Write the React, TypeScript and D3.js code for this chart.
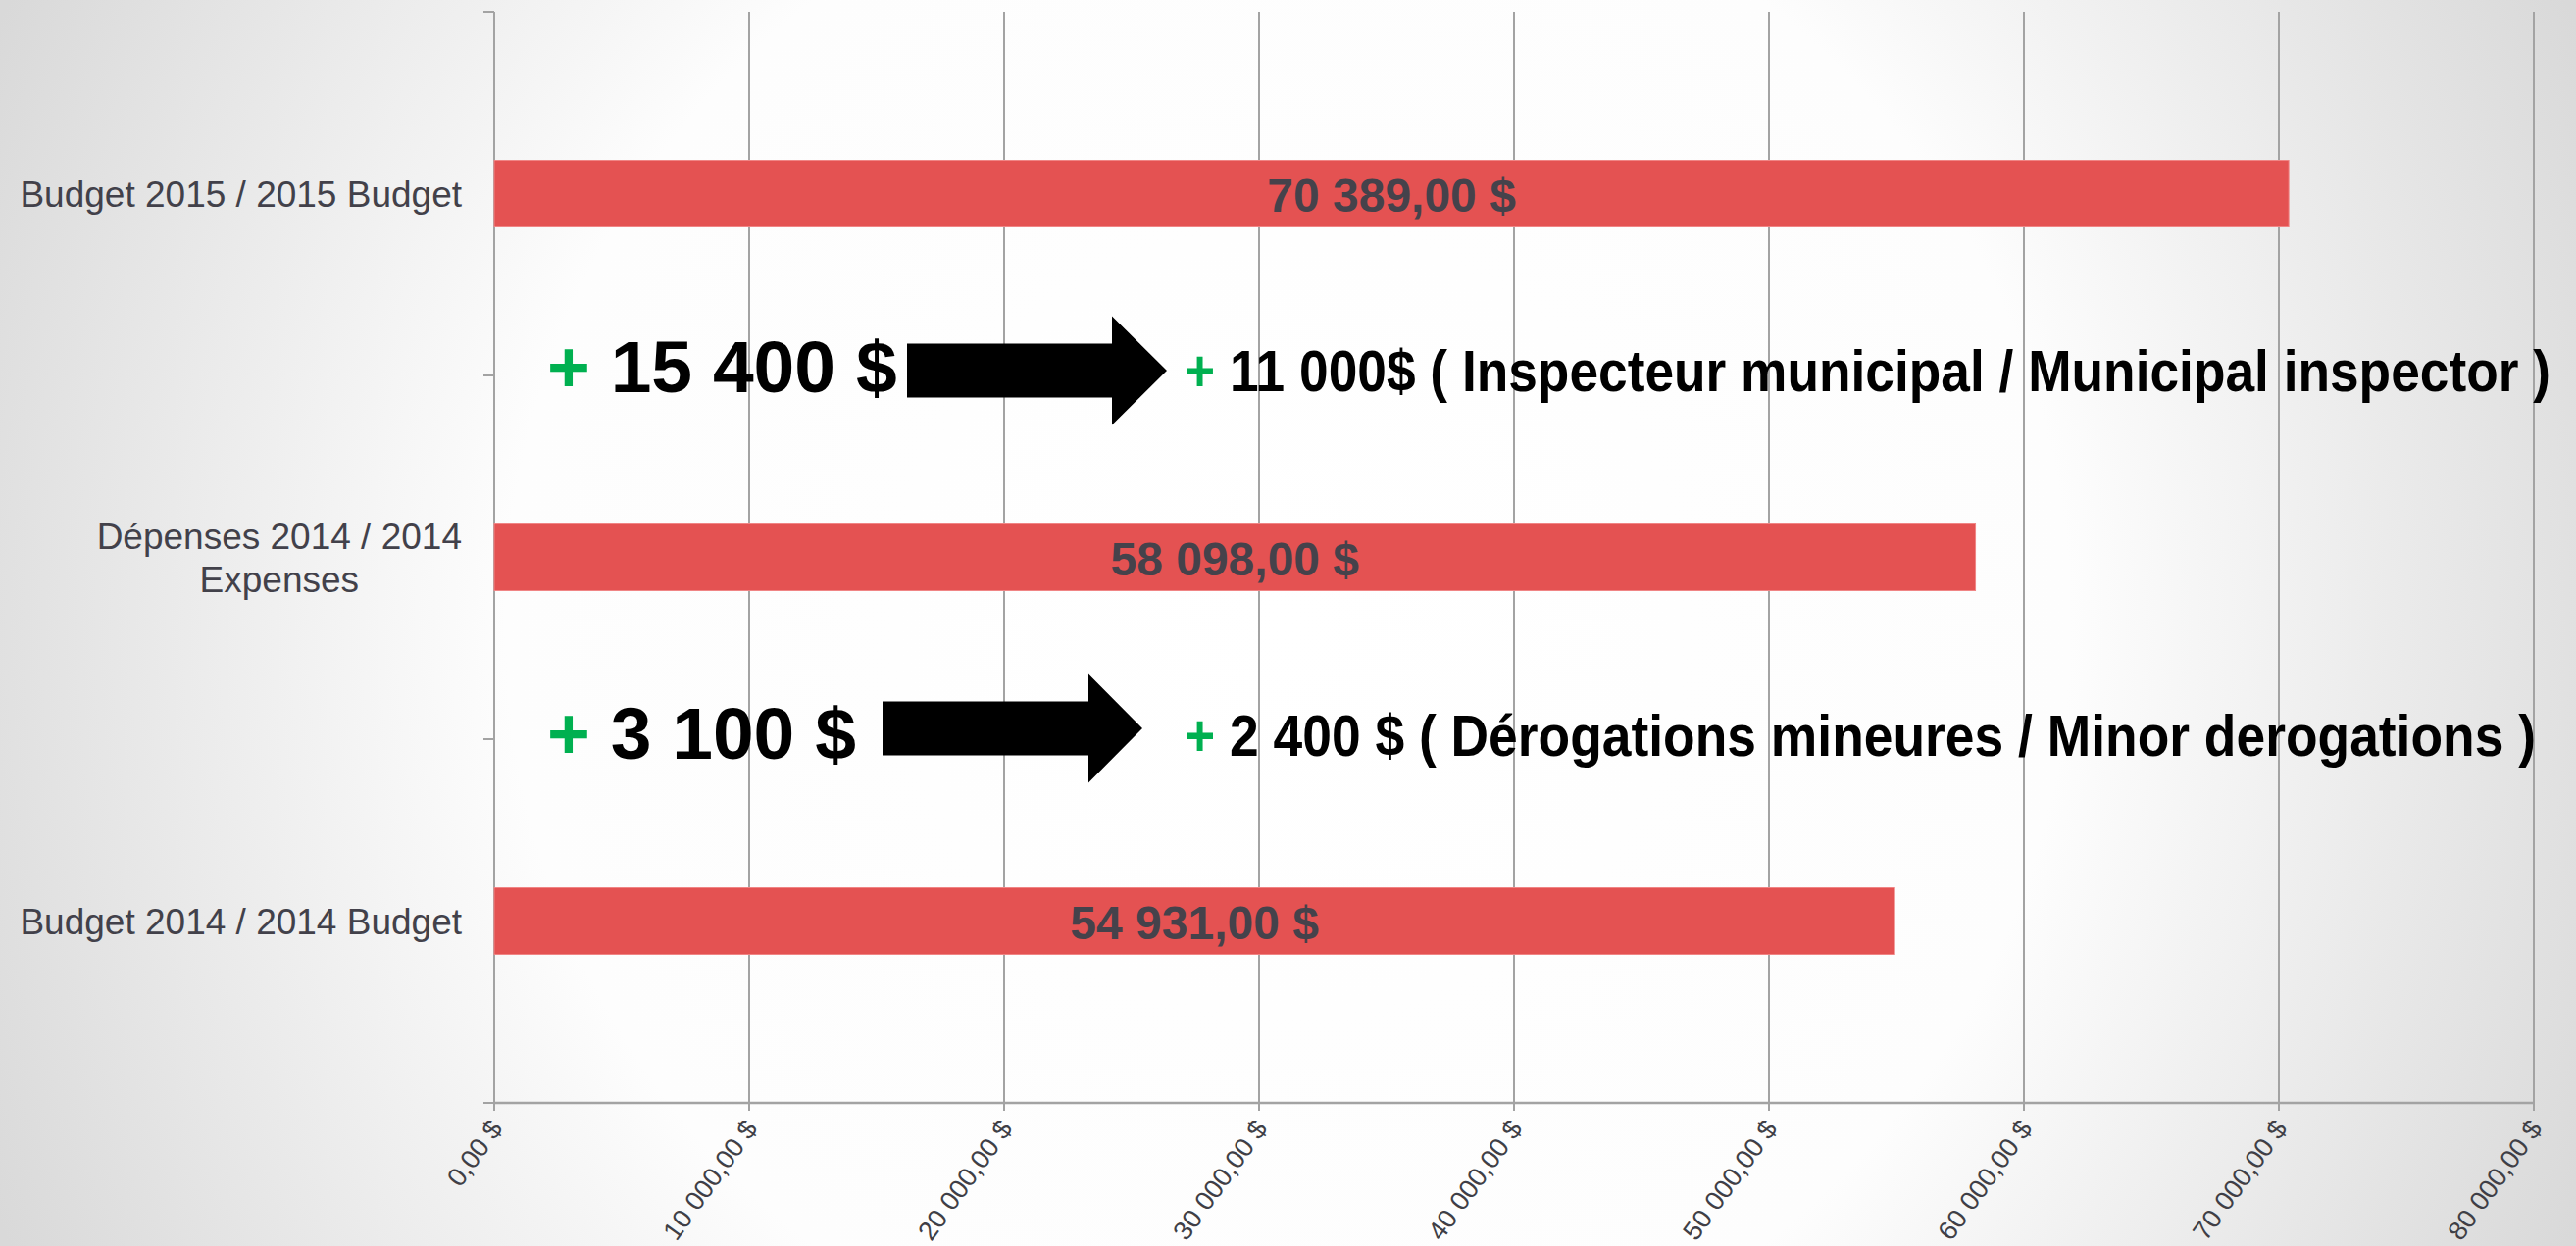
import React, { useEffect, useRef } from "react";
import * as d3 from "d3";

// ---- data ----
const categories = [
  "Budget 2015 / 2015 Budget",
  "Dépenses 2014 / 2014 Expenses",
  "Budget 2014 / 2014 Budget",
];
const categoryLabelLines = [
  ["Budget 2015 / 2015 Budget"],
  ["Dépenses 2014 / 2014", "Expenses"],
  ["Budget 2014 / 2014 Budget"],
];
const values = [70389, 58098, 54931];
const xTickValues = [0, 10000, 20000, 30000, 40000, 50000, 60000, 70000, 80000];
const increaseTotals = ["15 400 $", "3 100 $"];
const increaseDetails = [
  "11 000$ ( Inspecteur municipal / Municipal inspector )",
  "2 400 $ ( Dérogations mineures / Minor derogations )",
];

// ---- layout ----
const W = 2627;
const H = 1271;
const M = { left: 504, right: 2584, top: 12, bottom: 1125 };
const FONT = "'Liberation Sans', Arial, Helvetica, sans-serif";
const annotationLayout = [
  { textX: 558, baseline: 400, arrowX0: 925, arrowX1: 1134, arrowTip: 1190, arrowCy: 378, detailX: 1208, detailBaseline: 399, detailLen: 1393 },
  { textX: 558, baseline: 774, arrowX0: 900, arrowX1: 1110, arrowTip: 1165, arrowCy: 743, detailX: 1208, detailBaseline: 771, detailLen: 1378 },
];

const locale = d3.formatLocale({ decimal: ",", thousands: " ", grouping: [3], currency: ["", " $"] });
const fmt = locale.format("$,.2f");

export default function App() {
  const ref = useRef<SVGSVGElement>(null);

  useEffect(() => {
    const svg = d3.select(ref.current);
    svg.selectAll("*").remove();

    const defs = svg.append("defs");
    const grad = defs
      .append("radialGradient")
      .attr("id", "bg")
      .attr("gradientUnits", "userSpaceOnUse")
      .attr("cx", W / 2)
      .attr("cy", H / 2)
      .attr("r", 1450);
    grad.append("stop").attr("offset", "0").attr("stop-color", "#ffffff");
    grad.append("stop").attr("offset", "0.55").attr("stop-color", "#fdfdfd");
    grad.append("stop").attr("offset", "1").attr("stop-color", "#d9d9d9");
    svg.append("rect").attr("width", W).attr("height", H).attr("fill", "url(#bg)");

    const x = d3.scaleLinear().domain([0, 80000]).range([M.left, M.right]);
    const y = d3
      .scaleBand<string>()
      .domain(categories)
      .range([M.top, M.bottom])
      .paddingInner(0.8167)
      .paddingOuter(0.40835);

    const axisColor = "#a3a3a3";

    // gridlines
    svg
      .append("g")
      .selectAll("line")
      .data(xTickValues.filter((d) => d > 0))
      .join("line")
      .attr("x1", (d) => x(d))
      .attr("x2", (d) => x(d))
      .attr("y1", M.top)
      .attr("y2", M.bottom)
      .attr("stroke", axisColor)
      .attr("stroke-width", 2);

    // y axis
    svg
      .append("line")
      .attr("x1", M.left)
      .attr("x2", M.left)
      .attr("y1", M.top)
      .attr("y2", M.bottom + 8)
      .attr("stroke", axisColor)
      .attr("stroke-width", 2);
    const step = y.step();
    svg
      .append("g")
      .selectAll("line")
      .data(d3.range(categories.length + 1))
      .join("line")
      .attr("x1", M.left - 11)
      .attr("x2", M.left)
      .attr("y1", (i) => M.top + i * step)
      .attr("y2", (i) => M.top + i * step)
      .attr("stroke", axisColor)
      .attr("stroke-width", 2);

    // x axis
    svg
      .append("line")
      .attr("x1", M.left)
      .attr("x2", M.right)
      .attr("y1", M.bottom)
      .attr("y2", M.bottom)
      .attr("stroke", axisColor)
      .attr("stroke-width", 2.5);
    svg
      .append("g")
      .selectAll("line")
      .data(xTickValues)
      .join("line")
      .attr("x1", (d) => x(d))
      .attr("x2", (d) => x(d))
      .attr("y1", M.bottom)
      .attr("y2", M.bottom + 8)
      .attr("stroke", axisColor)
      .attr("stroke-width", 2);

    // x tick labels
    svg
      .append("g")
      .selectAll("text")
      .data(xTickValues)
      .join("text")
      .attr("transform", (d) => `translate(${x(d) + 2},${M.bottom + 21}) rotate(-54)`)
      .attr("text-anchor", "end")
      .attr("dy", "0.35em")
      .attr("font-family", FONT)
      .attr("font-size", 27)
      .attr("fill", "#3f3f46")
      .text((d) => fmt(d));

    // bars
    svg
      .append("g")
      .selectAll("rect")
      .data(values)
      .join("rect")
      .attr("x", x(0))
      .attr("y", (_, i) => y(categories[i])!)
      .attr("width", (d) => x(d) - x(0))
      .attr("height", y.bandwidth())
      .attr("fill", "#E45252")
      .attr("stroke", "#f08585")
      .attr("stroke-width", 1);

    // value labels
    svg
      .append("g")
      .selectAll("text")
      .data(values)
      .join("text")
      .attr("x", (d) => (x(0) + x(d)) / 2)
      .attr("y", (_, i) => y(categories[i])! + y.bandwidth() / 2 + 18)
      .attr("text-anchor", "middle")
      .attr("font-family", FONT)
      .attr("font-weight", "bold")
      .attr("font-size", 48)
      .attr("fill", "#45424b")
      .text((d) => fmt(d));

    // category labels
    const labelRight = M.left - 33;
    const fs = 37;
    const lineH = 44;
    categories.forEach((c, i) => {
      const lines = categoryLabelLines[i];
      const cy = y(c)! + y.bandwidth() / 2;
      const g = svg.append("g");
      const texts = lines.map((ln, j) =>
        g
          .append("text")
          .attr("text-anchor", "middle")
          .attr("font-family", FONT)
          .attr("font-size", fs)
          .attr("fill", "#42414a")
          .attr("y", cy + 0.36 * fs + (j - (lines.length - 1) / 2) * lineH)
          .text(ln)
      );
      const maxW = d3.max(texts, (t) => (t.node() as SVGTextElement).getComputedTextLength()) || 0;
      texts.forEach((t) => t.attr("x", labelRight - maxW / 2));
    });

    // annotations
    annotationLayout.forEach((a, i) => {
      const t = svg
        .append("text")
        .attr("x", a.textX)
        .attr("y", a.baseline)
        .attr("font-family", FONT)
        .attr("font-weight", "bold")
        .attr("font-size", 75);
      t.append("tspan").attr("fill", "#00B050").text("+");
      t.append("tspan").attr("fill", "#000000").text(" " + increaseTotals[i]);

      const bh = 27.5;
      const hh = 55.5;
      const pts = [
        [a.arrowX0, a.arrowCy - bh],
        [a.arrowX1, a.arrowCy - bh],
        [a.arrowX1, a.arrowCy - hh],
        [a.arrowTip, a.arrowCy],
        [a.arrowX1, a.arrowCy + hh],
        [a.arrowX1, a.arrowCy + bh],
        [a.arrowX0, a.arrowCy + bh],
      ];
      svg.append("polygon").attr("points", pts.map((p) => p.join(",")).join(" ")).attr("fill", "#000");

      const d = svg
        .append("text")
        .attr("transform", `translate(${a.detailX},${a.detailBaseline}) scale(1,1.1)`)
        .attr("font-family", FONT)
        .attr("font-weight", "bold")
        .attr("font-size", 53)
        .attr("textLength", a.detailLen)
        .attr("lengthAdjust", "spacingAndGlyphs");
      d.append("tspan").attr("fill", "#00B050").text("+");
      d.append("tspan").attr("fill", "#000000").text(" " + increaseDetails[i]);
    });
  }, []);

  return (
    <svg
      ref={ref}
      width={W}
      height={H}
      style={{ position: "absolute", left: 0, top: 0, display: "block" }}
    />
  );
}
